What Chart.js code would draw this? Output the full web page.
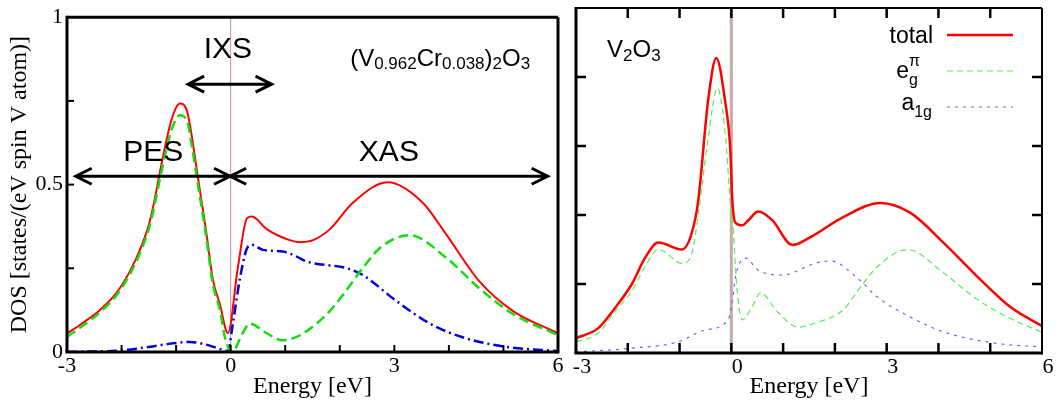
<!DOCTYPE html>
<html>
<head>
<meta charset="utf-8">
<script src="https://cdn.jsdelivr.net/npm/chart.js@4.4.0/dist/chart.umd.min.js"></script>
<style>
  body { margin: 0; background: #fff; }
  canvas { position: absolute; top: 0; }
</style>
</head>
<body>
<canvas id="leftChart" width="565" height="403" style="left:0"></canvas>
<canvas id="rightChart" width="493" height="403" style="left:565px"></canvas>
<script>
// ---- (V0.962Cr0.038)2O3 panel ----
const eTotL = [-3.0, -2.7, -2.4, -2.1, -1.85, -1.65, -1.5, -1.4, -1.3, -1.2, -1.1, -1.0, -0.93, -0.8, -0.71, -0.62, -0.53, -0.44, -0.33, -0.2, -0.05, 0.13, 0.3, 0.39, 0.66, 1.08, 1.27, 1.51, 1.82, 2.24, 2.88, 3.52, 3.96, 4.56, 5.17, 6.0];
const dosTotL = [0.055, 0.088, 0.125, 0.175, 0.24, 0.31, 0.38, 0.45, 0.535, 0.615, 0.685, 0.73, 0.742, 0.72, 0.642, 0.543, 0.446, 0.35, 0.22, 0.144, 0.056, 0.25, 0.40, 0.405, 0.367, 0.334, 0.328, 0.334, 0.367, 0.446, 0.507, 0.446, 0.349, 0.211, 0.123, 0.056];
const eEgL = [-3.0, -2.7, -2.4, -2.1, -1.85, -1.65, -1.5, -1.4, -1.3, -1.2, -1.1, -1.0, -0.93, -0.8, -0.71, -0.62, -0.53, -0.44, -0.33, -0.2, -0.1, 0.03, 0.2, 0.35, 0.66, 0.95, 1.27, 1.82, 2.42, 2.73, 3.28, 3.96, 4.56, 5.17, 6.0];
const dosEgL = [0.045, 0.08, 0.118, 0.168, 0.232, 0.30, 0.368, 0.435, 0.515, 0.59, 0.655, 0.697, 0.707, 0.69, 0.615, 0.52, 0.43, 0.335, 0.205, 0.128, 0.04, 0.0, 0.05, 0.085, 0.056, 0.035, 0.05, 0.123, 0.25, 0.31, 0.349, 0.28, 0.19, 0.114, 0.05];
const eA1gL = [-3.0, -2.0, -1.5, -1.1, -0.75, -0.45, -0.25, -0.05, 0.04, 0.17, 0.30, 0.39, 0.59, 0.96, 1.21, 1.40, 2.13, 2.42, 3.04, 3.65, 4.25, 5.06, 6.0];
const dosA1gL = [0.0, 0.005, 0.015, 0.025, 0.03, 0.022, 0.012, 0.003, 0.085, 0.22, 0.31, 0.32, 0.305, 0.30, 0.285, 0.27, 0.25, 0.23, 0.152, 0.085, 0.044, 0.015, 0.003];

// ---- V2O3 panel ----
const eTotR = [-3.0, -2.57, -2.25, -1.92, -1.67, -1.41, -0.95, -0.76, -0.64, -0.45, -0.29, -0.12, -0.02, 0.02, 0.08, 0.21, 0.33, 0.52, 0.79, 1.18, 1.53, 2.16, 2.88, 3.46, 4.10, 4.76, 5.39, 6.0];
const dosTotR = [0.043, 0.072, 0.13, 0.20, 0.275, 0.32, 0.30, 0.35, 0.44, 0.73, 0.855, 0.73, 0.59, 0.44, 0.377, 0.37, 0.385, 0.41, 0.385, 0.313, 0.336, 0.394, 0.435, 0.406, 0.319, 0.22, 0.133, 0.078];
const eEgR = [-3.0, -2.57, -2.25, -1.92, -1.67, -1.41, -0.95, -0.76, -0.64, -0.45, -0.27, -0.12, -0.02, 0.04, 0.08, 0.13, 0.21, 0.40, 0.56, 0.91, 1.29, 1.62, 2.16, 2.49, 2.82, 3.40, 4.10, 4.76, 5.39, 6.0];
const dosEgR = [0.032, 0.058, 0.12, 0.18, 0.25, 0.30, 0.26, 0.29, 0.40, 0.62, 0.768, 0.64, 0.44, 0.35, 0.25, 0.155, 0.096, 0.133, 0.174, 0.116, 0.075, 0.087, 0.125, 0.19, 0.25, 0.30, 0.232, 0.154, 0.10, 0.06];
const eA1gR = [-3.0, -1.92, -1.03, -0.50, -0.06, 0.02, 0.08, 0.27, 0.52, 0.98, 1.62, 1.91, 2.49, 2.82, 3.46, 4.10, 5.07, 6.0];
const dosA1gR = [0.003, 0.014, 0.032, 0.067, 0.096, 0.15, 0.22, 0.275, 0.24, 0.226, 0.26, 0.267, 0.21, 0.162, 0.104, 0.061, 0.029, 0.017];

// tick labels
const eLabels = [-3, 0, 3, 6];
const dosLabelsL = [0, 0.5, 1];
const eFermi = 0;

const SANS = '"Liberation Sans", Arial, sans-serif';
const SERIF = '"Liberation Serif", "Times New Roman", serif';

function pts(xs, ys) {
    return xs.map((x, i) => ({ x: x, y: ys[i] }));
}

function curve(xs, ys, color, width, dash) {
    return {
        data: pts(xs, ys),
        borderColor: color,
        borderWidth: width,
        borderDash: dash,
        pointRadius: 0,
        fill: false,
        cubicInterpolationMode: "monotone",
    };
}

function vline(color, width) {
    return {
        data: [{ x: eFermi, y: 0 }, { x: eFermi, y: 1 }],
        borderColor: color,
        borderWidth: width,
        pointRadius: 0,
        tension: 0,
    };
}

// text with sub/superscripts, parts like {t:'V'} or {sub:'2', sup:'x'}
function richWidth(ctx, parts, base, small) {
    let w = 0;
    parts.forEach(p => {
        if (p.t !== undefined) {
            ctx.font = base + "px " + SANS;
            w += ctx.measureText(p.t).width;
        } else {
            ctx.font = small + "px " + SANS;
            w += Math.max(ctx.measureText(p.sub || "").width, ctx.measureText(p.sup || "").width);
        }
    });
    return w;
}

function drawRich(ctx, parts, x, y, base, small, dSub, dSup, alignRight) {
    let cx = alignRight ? x - richWidth(ctx, parts, base, small) : x;
    ctx.textAlign = "left";
    ctx.textBaseline = "alphabetic";
    parts.forEach(p => {
        if (p.t !== undefined) {
            ctx.font = base + "px " + SANS;
            ctx.fillText(p.t, cx, y);
            cx += ctx.measureText(p.t).width;
        } else {
            ctx.font = small + "px " + SANS;
            if (p.sub) ctx.fillText(p.sub, cx, y + dSub);
            if (p.sup) ctx.fillText(p.sup, cx, y - dSup);
            cx += Math.max(ctx.measureText(p.sub || "").width, ctx.measureText(p.sup || "").width);
        }
    });
}

// inward tick marks plus the box around the plot
function framePlugin(o) {
    return {
        id: "frame",
        afterDatasetsDraw(chart) {
            const { ctx, chartArea: a, scales } = chart;
            const line = (x1, y1, x2, y2) => {
                ctx.beginPath();
                ctx.moveTo(x1, y1);
                ctx.lineTo(x2, y2);
                ctx.stroke();
            };
            ctx.save();
            ctx.strokeStyle = "#000";
            ctx.lineCap = "butt";
            ctx.lineWidth = o.tickW;
            scales.x.ticks.forEach(t => {
                if (t.value <= scales.x.min || t.value >= scales.x.max) return;
                const px = scales.x.getPixelForValue(t.value);
                line(px, a.bottom, px, a.bottom - o.tickLen);
                if (o.mirror) line(px, a.top, px, a.top + o.tickLen);
            });
            scales.y.ticks.forEach(t => {
                if (t.value <= scales.y.min || t.value >= scales.y.max) return;
                const py = scales.y.getPixelForValue(t.value);
                line(a.left, py, a.left + o.tickLen, py);
                if (o.mirror) line(a.right, py, a.right - o.tickLen, py);
            });
            ctx.lineWidth = o.boxW;
            line(a.left, a.top, a.right, a.top);
            line(a.right, a.top, a.right, a.bottom + o.axisW / 2);
            ctx.lineWidth = o.axisW;
            line(a.left, a.top - o.boxW / 2, a.left, a.bottom);
            line(a.left - o.axisW / 2, a.bottom, a.right, a.bottom);
            ctx.restore();
        },
    };
}

// arrows and labels of the left panel, placed in data units
const arrowsL = [
    { from: -2.84, to: -0.01, y: 0.525 },
    { from: -0.01, to: 5.81, y: 0.525 },
    { from: -0.78, to: 0.75, y: 0.80 },
];
const labelsL = [
    { text: "IXS", x: -0.05, y: 0.877 },
    { text: "PES", x: -1.42, y: 0.569 },
    { text: "XAS", x: 2.90, y: 0.569 },
];

const annotPlugin = {
    id: "annot",
    afterDraw(chart) {
        const { ctx, scales: { x, y } } = chart;
        ctx.save();
        ctx.fillStyle = "#000";
        ctx.strokeStyle = "#000";
        ctx.lineWidth = 3;
        ctx.lineJoin = "miter";
        arrowsL.forEach(a => {
            const x1 = x.getPixelForValue(a.from), x2 = x.getPixelForValue(a.to), py = y.getPixelForValue(a.y);
            ctx.beginPath();
            ctx.moveTo(x1, py);
            ctx.lineTo(x2, py);
            ctx.moveTo(x1 + 16, py - 8);
            ctx.lineTo(x1, py);
            ctx.lineTo(x1 + 16, py + 8);
            ctx.moveTo(x2 - 16, py - 8);
            ctx.lineTo(x2, py);
            ctx.lineTo(x2 - 16, py + 8);
            ctx.stroke();
        });
        ctx.font = "30px " + SANS;
        ctx.textAlign = "center";
        ctx.textBaseline = "alphabetic";
        labelsL.forEach(l => ctx.fillText(l.text, x.getPixelForValue(l.x), y.getPixelForValue(l.y)));
        drawRich(ctx, [{ t: "(V" }, { sub: "0.962" }, { t: "Cr" }, { sub: "0.038" }, { t: ")" }, { sub: "2" }, { t: "O" }, { sub: "3" }],
            x.getPixelForValue(2.19), y.getPixelForValue(0.853), 24, 17, 3, 0, false);
        ctx.restore();
    },
};

const legendPlugin = {
    id: "legendR",
    afterDraw(chart) {
        const { ctx, chartArea: a, scales: { x, y } } = chart;
        const ds = chart.data.datasets;
        const rows = [
            { parts: [{ t: "total" }], textX: a.right - 109, base: a.top + 35, lineY: a.top + 27, d: ds[2] },
            { parts: [{ t: "e" }, { sub: "g", sup: "\u03c0" }], textX: a.right - 122, base: a.top + 70, lineY: a.top + 63, d: ds[0] },
            { parts: [{ t: "a" }, { sub: "1g" }], textX: a.right - 110, base: a.top + 102, lineY: a.top + 99, d: ds[1] },
        ];
        ctx.save();
        ctx.fillStyle = "#000";
        rows.forEach(r => {
            drawRich(ctx, r.parts, r.textX, r.base, 23, 16, 7, 12, true);
            ctx.strokeStyle = r.d.borderColor;
            ctx.lineWidth = r.d.borderWidth;
            ctx.setLineDash(r.d.borderDash || []);
            ctx.beginPath();
            ctx.moveTo(a.right - 95, r.lineY);
            ctx.lineTo(a.right - 29, r.lineY);
            ctx.stroke();
        });
        ctx.setLineDash([]);
        drawRich(ctx, [{ t: "V" }, { sub: "2" }, { t: "O" }, { sub: "3" }],
            x.getPixelForValue(-2.40), y.getPixelForValue(0.858), 24, 17, 4, 0, false);
        ctx.restore();
    },
};

const tickFont = { family: SERIF, size: 22 };
const titleFont = { family: SERIF, size: 24 };

new Chart(document.getElementById("leftChart"), {
    type: "line",
    data: {
        datasets: [
            curve(eEgL, dosEgL, "#11dd11", 2.5, [10, 5]),
            curve(eA1gL, dosA1gL, "#0000dd", 2.5, [10, 4, 2, 4]),
            curve(eTotL, dosTotL, "#ff0000", 2, []),
            vline("#c09090", 1),
        ],
    },
    options: {
        responsive: false,
        animation: false,
        events: [],
        layout: { autoPadding: false, padding: { left: 0, right: 7, top: 11, bottom: 0 } },
        plugins: { legend: { display: false }, tooltip: { enabled: false } },
        scales: {
            x: {
                type: "linear",
                min: -3,
                max: 6,
                grid: { display: false, drawTicks: false },
                border: { display: false },
                ticks: {
                    stepSize: 1,
                    autoSkip: false,
                    maxRotation: 0,
                    padding: 1,
                    color: "#000",
                    font: tickFont,
                    callback: v => (eLabels.includes(v) ? String(v) : ""),
                },
                title: { display: true, text: "Energy [eV]", color: "#000", font: titleFont, padding: { top: 0, bottom: 2 } },
                afterFit: s => { s.height = 51; },
            },
            y: {
                min: 0,
                max: 1,
                grid: { display: false, drawTicks: false },
                border: { display: false },
                ticks: {
                    stepSize: 0.25,
                    padding: 4,
                    color: "#000",
                    font: tickFont,
                    callback: v => (dosLabelsL.includes(v) ? String(v) : ""),
                },
                title: { display: true, text: "DOS [states/(eV spin V atom)]", color: "#000", font: titleFont, padding: { top: 5, bottom: 0 } },
                afterFit: s => { s.width = 67; },
            },
        },
    },
    plugins: [framePlugin({ tickW: 2, tickLen: 7, axisW: 3, boxW: 3, mirror: false }), annotPlugin],
});

new Chart(document.getElementById("rightChart"), {
    type: "line",
    data: {
        datasets: [
            curve(eEgR, dosEgR, "#55ee55", 1.2, [6, 4]),
            curve(eA1gR, dosA1gR, "#6666ff", 1.2, [3, 5]),
            curve(eTotR, dosTotR, "#ff0000", 2.5, []),
            vline("#c8a8a8", 3),
        ],
    },
    options: {
        responsive: false,
        animation: false,
        events: [],
        layout: { autoPadding: false, padding: { left: 0, right: 16, top: 8, bottom: 0 } },
        plugins: { legend: { display: false }, tooltip: { enabled: false } },
        scales: {
            x: {
                type: "linear",
                min: -3,
                max: 6,
                grid: { display: false, drawTicks: false },
                border: { display: false },
                ticks: {
                    stepSize: 1,
                    autoSkip: false,
                    maxRotation: 0,
                    padding: 1,
                    labelOffset: 6,
                    color: "#000",
                    font: tickFont,
                    callback: v => (eLabels.includes(v) ? String(v) : ""),
                },
                title: { display: true, text: "Energy [eV]", color: "#000", font: titleFont, padding: { top: 0, bottom: 2 } },
                afterFit: s => { s.height = 50; },
            },
            y: {
                min: 0,
                max: 1,
                grid: { display: false, drawTicks: false },
                border: { display: false },
                ticks: { stepSize: 0.2, display: false },
                afterFit: s => { s.width = 11; },
            },
        },
    },
    plugins: [framePlugin({ tickW: 2.5, tickLen: 10, axisW: 3, boxW: 2, mirror: true }), legendPlugin],
});
</script>
</body>
</html>
